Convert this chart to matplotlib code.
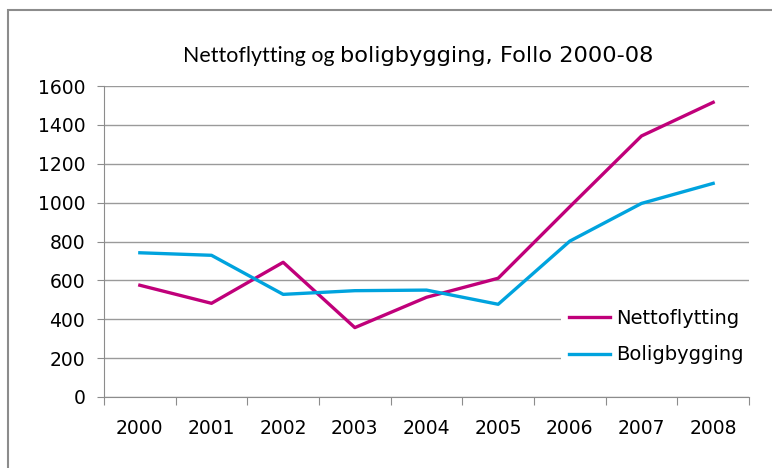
import matplotlib
matplotlib.use("Agg")
import matplotlib.pyplot as plt
import numpy as np
from matplotlib.patches import Rectangle

years = ["2000", "2001", "2002", "2003", "2004", "2005", "2006", "2007", "2008"]
nettoflytting = [575, 482, 693, 357, 513, 611, 979, 1343, 1516]
boligbygging = [742, 729, 528, 547, 550, 477, 802, 996, 1099]
yticks = [0, 200, 400, 600, 800, 1000, 1200, 1400, 1600]

fig = plt.figure(figsize=(7.72, 4.68), dpi=100)
fig.patch.set_facecolor("white")
# outer chart border
fig.patches.append(Rectangle((8/772, -0.05), 1.0, 1 - 10/468 + 0.05,
                             transform=fig.transFigure, fill=False,
                             edgecolor="#8c8c8c", linewidth=1.5))

L, R, T, B = 104, 749, 86, 397
ax = fig.add_axes([L/772, 1 - B/468, (R-L)/772, (B-T)/468])
x = np.arange(len(years))
ax.set_xlim(-0.5, len(years) - 0.5)
ax.set_ylim(0, 1600)
ax.set_yticks(yticks)
ax.set_yticklabels([str(v) for v in yticks], fontsize=13.5)
ax.yaxis.grid(True, color="#9a9a9a", linewidth=1)
ax.set_axisbelow(True)
for s in ["top", "right"]:
    ax.spines[s].set_visible(False)
for s in ["left", "bottom"]:
    ax.spines[s].set_color("#8c8c8c")
ax.tick_params(axis="y", length=5, color="#8c8c8c", pad=8.5)
ax.set_xticks(np.arange(-0.5, len(years) + 0.5, 1.0))
ax.set_xticklabels([])
ax.set_xticks(x, minor=True)
ax.set_xticklabels(years, minor=True, fontsize=13.5)
ax.tick_params(axis="x", which="major", length=6, color="#8c8c8c")
ax.tick_params(axis="x", which="minor", length=0, pad=16)

ax.plot(x, nettoflytting, color="#C0007A", linewidth=2.4, label="Nettoflytting")
ax.plot(x, boligbygging, color="#00A3DE", linewidth=2.4, label="Boligbygging")

leg = ax.legend(loc="upper left", bbox_to_anchor=(569/772, 1 - 309/468),
                bbox_transform=fig.transFigure, frameon=True,
                fontsize=14, handlelength=2.1, labelspacing=0.9, borderpad=0.0,
                handletextpad=0.3, borderaxespad=0.0)
leg.get_frame().set_edgecolor("none")
leg.get_frame().set_facecolor("white")
leg.get_frame().set_alpha(1.0)
leg.get_frame().set_boxstyle("square", pad=0.4)

base_y = 1 - 62/468
t1 = fig.text(183/772, base_y, "Nettoflytting og ", ha="left", va="baseline",
              fontsize=15.4, family="Lato")
t2 = fig.text(0, 0, "boligbygging, Follo 2000-08", fontsize=16.2,
              family="DejaVu Sans", ha="left", va="baseline")
fig.canvas.draw()
bb = t1.get_window_extent()
t2.set_position((bb.x1 / fig.bbox.width, base_y))

fig.savefig("out.png", dpi=100, facecolor="white")
